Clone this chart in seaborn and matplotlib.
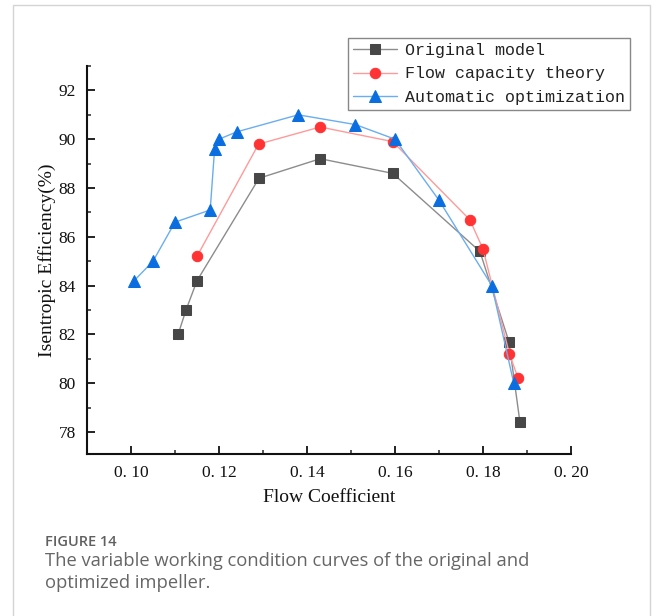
import matplotlib
matplotlib.use("Agg")
import matplotlib.pyplot as plt
import seaborn as sns
import pandas as pd
from matplotlib.patches import Rectangle
from matplotlib.ticker import MultipleLocator

# Data
orig_x = [0.1107, 0.1125, 0.1150, 0.1291, 0.1430, 0.1595, 0.1793, 0.1859, 0.1884]
orig_y = [82.0, 83.0, 84.2, 88.4, 89.2, 88.6, 85.4, 81.7, 78.4]

flow_x = [0.1150, 0.1290, 0.1430, 0.1595, 0.1770, 0.1800, 0.1860, 0.1880]
flow_y = [85.2, 89.8, 90.5, 89.9, 86.7, 85.5, 81.2, 80.2]

auto_x = [0.1007, 0.1050, 0.1100, 0.1180, 0.1190, 0.1200, 0.1240, 0.1380,
          0.1510, 0.1600, 0.1700, 0.1820, 0.1870]
auto_y = [84.2, 85.0, 86.6, 87.1, 89.6, 90.0, 90.3, 91.0, 90.6, 90.0, 87.5, 84.0, 80.0]

series_names = ["Original model", "Flow capacity theory", "Automatic optimization"]
x_ticks = [0.10, 0.12, 0.14, 0.16, 0.18, 0.20]
x_ticklabels = ["0. 10", "0. 12", "0. 14", "0. 16", "0. 18", "0. 20"]
y_ticks = [78, 80, 82, 84, 86, 88, 90, 92]

sns.set_style("ticks")
serif = ["Liberation Serif", "DejaVu Serif"]
plt.rcParams["font.family"] = serif

fig = plt.figure(figsize=(6.56, 6.16), dpi=100)
ax = fig.add_axes([87/656, 1 - 454/616, (571 - 87)/656, (454 - 66)/616])

styles = [
    dict(line="#8c8c8c", mk="#474747", marker="s", ms=6.5),
    dict(line="#ff9a9a", mk="#ff3333", marker="o", ms=7.5),
    dict(line="#6aaef0", mk="#0a6ee0", marker="^", ms=8.5),
]
datasets = [(orig_x, orig_y), (flow_x, flow_y), (auto_x, auto_y)]

for (xs, ys), name, st in zip(datasets, series_names, styles):
    df = pd.DataFrame({"x": xs, "y": ys})
    sns.lineplot(data=df, x="x", y="y", sort=False, ax=ax, color=st["line"],
                 linewidth=1.0, marker=st["marker"], markersize=st["ms"],
                 markerfacecolor=st["mk"], markeredgecolor=st["mk"],
                 label=name)

ax.set_xlim(0.09, 0.20)
ax.set_ylim(77.1, 93.0)
ax.set_xticks(x_ticks)
ax.set_xticklabels(x_ticklabels)
ax.set_yticks(y_ticks)
ax.xaxis.set_minor_locator(MultipleLocator(0.01))
ax.yaxis.set_minor_locator(MultipleLocator(1))
ax.tick_params(which="major", direction="in", length=6, width=1.3,
               labelsize=12.5, colors="#111111", pad=8)
ax.tick_params(which="minor", direction="in", length=3, width=1.1)
for s in ["top", "right"]:
    ax.spines[s].set_visible(False)
for s in ["left", "bottom"]:
    ax.spines[s].set_linewidth(1.5)
    ax.spines[s].set_color("#111111")

ax.set_xlabel("Flow Coefficient", fontsize=14, color="#111111", labelpad=6)
ax.set_ylabel("Isentropic Efficiency(%)", fontsize=14, color="#111111", labelpad=2)

leg = ax.legend(loc="upper right", bbox_to_anchor=(630/656, 1 - 38/616),
                bbox_transform=fig.transFigure, frameon=True, fancybox=False,
                prop={"family": ["Liberation Mono", "DejaVu Sans Mono"], "size": 12},
                handlelength=2.6, handletextpad=0.5, labelspacing=0.5,
                borderpad=0.3, borderaxespad=0)
leg.get_frame().set_edgecolor("#6a6a6a")
leg.get_frame().set_linewidth(1.0)
for t in leg.get_texts():
    t.set_color("#222222")

# card border
fig.add_artist(Rectangle((13/656, -0.05), (650 - 13)/656, 1.05 - 5/616,
                         transform=fig.transFigure, fill=False,
                         edgecolor="#d4d4d4", linewidth=1.0))

sans = ["Open Sans", "DejaVu Sans"]
fig.text(45/656, 1 - 542/616, "FIGURE 14", family=sans, fontsize=10.5,
         fontweight="semibold", color="#606060", va="center")
fig.text(45/656, 1 - 572/616,
         "The variable working condition curves of the original and\noptimized impeller.",
         family=sans, fontsize=13.2, color="#666666", va="center", linespacing=1.35)

fig.savefig("out.png", dpi=100)
